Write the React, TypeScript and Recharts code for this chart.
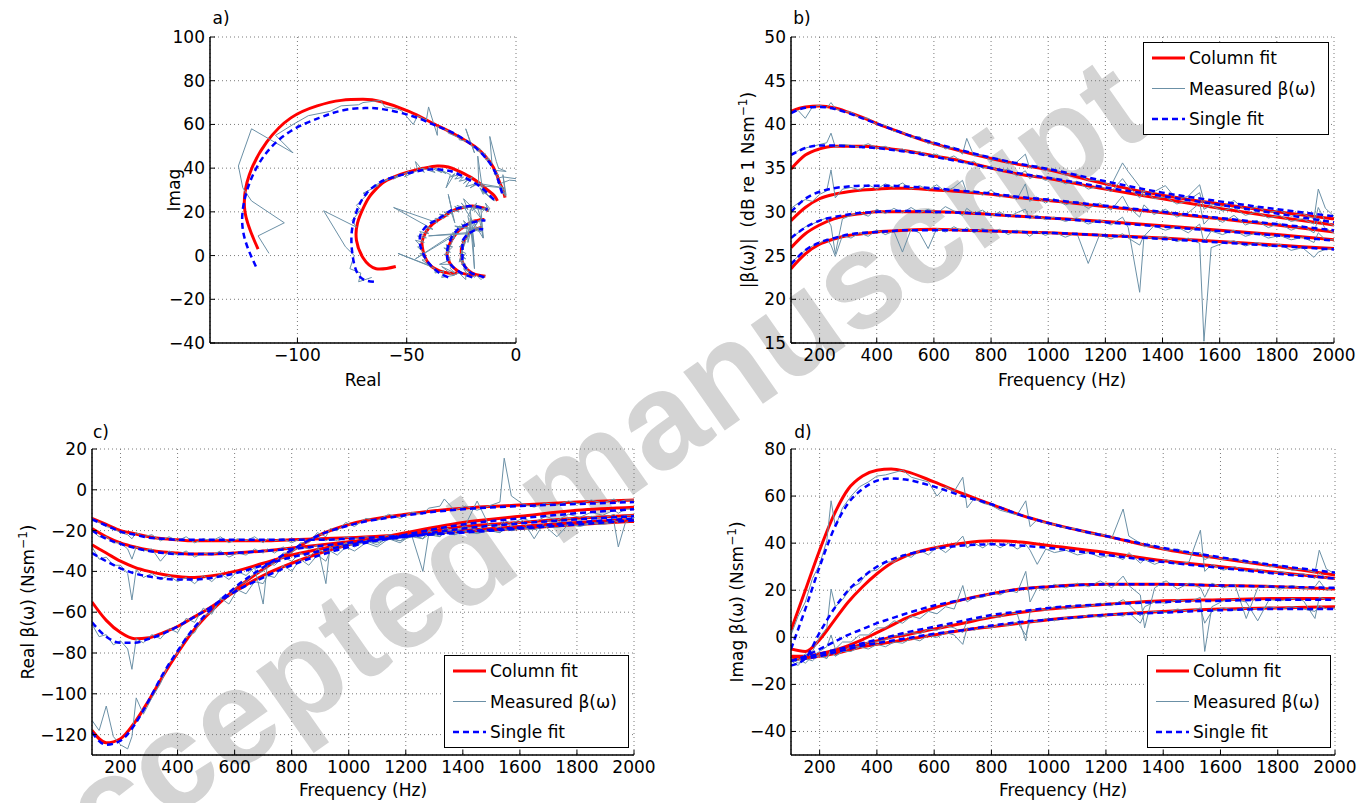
import React from "react";
import { LineChart, Line, XAxis, YAxis, CartesianGrid } from "recharts";

// frequency grids (Hz)
const fitFreq = [100, 150, 200, 250, 300, 350, 400, 450, 500, 600, 700, 800, 900, 1000, 1200, 1400, 1600, 1800, 2000];
const measFreq = [
  100, 125, 150, 175, 200, 225, 240, 255, 280, 310, 340, 370, 400, 430, 460, 490, 520, 550, 580, 610,
  640, 670, 700, 715, 740, 770, 800, 830, 860, 890, 920, 935, 960, 990, 1020, 1060, 1100, 1140, 1180, 1220,
  1260, 1280, 1320, 1335, 1370, 1410, 1450, 1490, 1530, 1545, 1570, 1610, 1650, 1690, 1730, 1770, 1810, 1850, 1890, 1930,
  1945, 1970, 2000,
];

// |beta| in dB
const bColumnFit = [
  [41.5, 42, 42.1, 41.9, 41.4, 40.8, 40.1, 39.5, 38.9, 37.8, 36.9, 36.1, 35.4, 34.8, 33.2, 31.9, 30.9, 30.0, 29.2],
  [34.9, 36.5, 37.2, 37.5, 37.5, 37.5, 37.4, 37.2, 37, 36.4, 35.8, 35, 34.3, 33.8, 32.6, 31.5, 30.4, 29.4, 28.5],
  [29, 30.5, 31.5, 32, 32.3, 32.5, 32.6, 32.7, 32.7, 32.5, 32.3, 32, 31.6, 31.3, 30.6, 29.9, 29.2, 28.5, 27.7],
  [25.9, 27.5, 28.5, 29.2, 29.6, 29.8, 30, 30, 30, 30, 29.9, 29.7, 29.5, 29.3, 28.9, 28.4, 27.9, 27.4, 26.8],
  [23.5, 25.2, 26.3, 26.9, 27.3, 27.5, 27.7, 27.8, 27.9, 28, 27.9, 27.8, 27.7, 27.6, 27.3, 27, 26.6, 26.2, 25.8],
];
const bSingleFit = [
  [41.3, 41.9, 42, 41.8, 41.3, 40.7, 40.1, 39.5, 38.9, 37.9, 37, 36.2, 35.5, 34.9, 33.5, 32.2, 31.2, 30.3, 29.5],
  [36.5, 37.3, 37.6, 37.6, 37.5, 37.4, 37.3, 37.1, 36.9, 36.3, 35.7, 35, 34.4, 33.9, 32.8, 31.8, 30.8, 29.8, 28.8],
  [30, 31.5, 32.3, 32.7, 32.9, 33, 33, 33, 32.9, 32.7, 32.4, 32.1, 31.7, 31.4, 30.7, 30, 29.3, 28.6, 27.9],
  [27, 28.2, 29, 29.4, 29.7, 29.9, 30, 30.1, 30.1, 30, 29.9, 29.7, 29.5, 29.3, 28.8, 28.3, 27.8, 27.3, 26.7],
  [24, 25.6, 26.5, 27, 27.4, 27.6, 27.7, 27.8, 27.9, 27.9, 27.9, 27.8, 27.7, 27.6, 27.3, 26.9, 26.5, 26.1, 25.7],
];
const bMeasured = [
  [41.3, 41.6, 40.7, 42.0, 42.2, 41.9, 42.5, 41.8, 41.5, 41.4, 40.8, 40.7, 40.0, 39.9, 39.2, 39.1, 38.5, 38.6, 37.8, 37.9,
    37.2, 37.4, 36.6, 38.4, 36.4, 36.5, 35.9, 36.1, 35.5, 35.7, 36.6, 35.0, 35.3, 34.7, 34.9, 34.2, 34.3, 33.6, 33.6, 33.0,
    35.6, 34.6, 32.9, 31.8, 32.3, 33.0, 31.4, 31.8, 33.1, 31.2, 30.9, 30.6, 31.3, 30.2, 30.6, 29.9, 30.2, 29.5, 29.8, 29.2,
    32.6, 30.4, 29.5],
  [36.4, 37.0, 37.3, 37.5, 37.7, 37.9, 39.0, 37.4, 37.7, 37.6, 37.4, 37.8, 37.3, 37.5, 37.0, 37.2, 36.7, 36.9, 36.4, 36.6,
    36.0, 36.4, 35.7, 35.5, 35.8, 35.0, 35.2, 34.6, 34.9, 34.1, 34.7, 33.8, 34.2, 33.6, 33.9, 33.2, 33.5, 32.6, 33.0, 32.3,
    33.8, 32.9, 31.6, 32.4, 31.5, 31.7, 30.9, 31.3, 32.2, 30.3, 30.7, 30.1, 30.5, 29.6, 30.0, 29.3, 29.6, 28.9, 29.2, 28.6,
    30.5, 28.9, 28.4],
  [30.4, 31.0, 31.4, 31.2, 32.0, 32.4, 34.8, 31.6, 32.6, 32.8, 32.5, 33.1, 32.6, 33.2, 32.8, 33.3, 32.6, 33.0, 32.5, 33.1,
    32.3, 32.8, 33.6, 32.2, 32.4, 31.9, 32.5, 31.7, 32.0, 31.4, 33.2, 31.2, 31.7, 31.0, 31.5, 30.8, 31.2, 30.4, 31.0, 30.2,
    31.8, 30.6, 29.4, 30.8, 29.7, 30.3, 29.4, 29.9, 31.0, 28.6, 29.5, 28.8, 29.6, 28.5, 29.0, 28.2, 28.7, 27.9, 28.4, 27.6,
    29.3, 28.1, 27.6],
  [27.0, 27.6, 28.3, 28.6, 29.0, 29.3, 28.4, 25.2, 29.2, 29.6, 29.9, 29.5, 30.3, 29.8, 30.4, 29.9, 30.5, 29.9, 30.3, 29.8,
    30.6, 30.1, 29.6, 30.4, 29.8, 30.2, 29.5, 30.0, 29.4, 29.9, 30.3, 29.2, 29.6, 29.1, 29.4, 28.9, 29.3, 28.6, 29.1, 28.5,
    29.4, 28.2, 20.8, 27.2, 28.4, 27.9, 28.3, 27.6, 28.6, 26.5, 27.8, 27.4, 27.9, 27.2, 27.6, 27.0, 27.3, 26.8, 27.1, 26.5,
    27.6, 26.8, 26.8],
  [24.2, 24.9, 25.6, 26.1, 26.4, 26.9, 26.2, 24.9, 27.3, 27.0, 27.6, 27.2, 27.9, 27.4, 27.8, 25.4, 28.0, 27.6, 25.8, 28.1,
    27.7, 28.3, 27.8, 28.2, 27.6, 28.1, 27.7, 28.0, 27.4, 27.9, 27.6, 27.2, 27.8, 27.3, 27.7, 27.1, 27.6, 24.1, 27.4, 26.9,
    27.5, 27.0, 26.2, 27.3, 26.9, 27.2, 26.6, 27.0, 26.4, 15.2, 25.9, 26.4, 26.7, 26.1, 26.5, 26.0, 26.3, 25.6, 25.9, 24.8,
    25.4, 25.7, 25.8],
];

// Real beta
const cColumnFit = [
  [-118, -124, -122, -114, -103, -91, -80, -70, -62, -49, -39, -30, -22, -17, -12, -9, -7.5, -6, -5],
  [-55, -64, -70, -73, -72.5, -70, -67, -63, -59, -50, -42, -36, -31, -27, -21, -16, -13, -10, -8.5],
  [-27, -31, -35, -38, -40, -41.5, -42.5, -43, -42.5, -40, -36, -32, -29, -26, -22, -18, -16, -14, -12.5],
  [-19, -23, -26, -28, -29.5, -30.5, -31, -31.5, -31.5, -31, -30, -28.5, -27, -25.5, -22.5, -20, -18, -16, -14.5],
  [-14, -17, -20, -21.5, -23, -24, -24.5, -25, -25, -25, -25, -24.5, -24, -23.5, -22, -20.5, -19, -17, -15.5],
];
const cSingleFit = [
  [-119, -125, -123, -115, -103, -90, -79, -69, -61, -48, -38, -29.5, -22, -17.5, -12.5, -9.5, -8, -7, -6],
  [-65, -72, -75, -75, -73, -70.5, -67, -63, -59, -50, -43, -37, -32, -28, -22, -17, -14, -11.5, -9.5],
  [-31, -35, -38.5, -41, -42.5, -43.5, -44, -44, -43.5, -41, -37, -33, -30, -27, -23, -19, -16.5, -14.5, -13],
  [-20, -24, -26.5, -28.5, -30, -31, -31.5, -31.5, -31.5, -31, -30, -29, -27.5, -26, -23, -20.5, -18.5, -16, -14],
  [-14.5, -17.5, -20.5, -22, -23.5, -24, -24.5, -24.5, -24.5, -24.5, -24.5, -24.5, -24.5, -24, -22.5, -21, -19, -17, -15],
];
const cMeasured = [
  [-113, -118, -106, -121, -125, -127, -121, -102, -110, -102, -95, -85, -80, -72, -70, -62, -60, -54, -52, -47,
    -45, -41, -40, -36, -36, -31, -31, -26, -26, -21, -23, -19, -20, -16, -18, -14, -15, -12, -14, -11,
    -12, -9, -8, -4.5, -10, -8, -10, -8, -6, 15.5, -3, -7, -8.5, -6.5, -7.5, -5.5, -7, -5, -6.5, -4.5,
    -6, -5, -5],
  [-66, -72, -71, -76, -74, -78, -88, -73, -75, -71, -73, -68, -70, -63, -65, -58, -61, -53, -56, -49,
    -51, -45, -46, -42, -43, -37, -40, -34, -37, -32, -35, -30, -32, -28, -30, -26, -28, -24, -26, -22,
    -24, -20, -23, -18, -21, -17, -5.5, -17, -17.5, -15, -16.5, -14, -16, -13, -15, -12, -13.5, -11, -12.5, -10,
    -11.5, -9.5, -9.5],
  [-28, -34, -33, -37, -37, -41, -54, -39, -43, -41, -44, -42, -45, -43, -46, -42, -45, -41, -44, -40,
    -42, -38, -56, -36, -37, -33, -35, -31, -33, -29, -31, -28, -30, -26, -28, -25, -27, -23, -25, -22,
    -24, -20, -22, -19, -21, -18, -20, -17, -19, -16, -18, -15, -24, -15, -16, -14, -15, -13, -14, -12,
    -14, -12.5, -12.5],
  [-20, -23, -23, -26, -26, -29, -34, -28, -30, -29, -35, -30, -32, -30, -33, -31, -32, -30, -33, -31,
    -32, -29, -31, -29, -31, -28, -30, -28, -29, -27, -46, -27, -28, -26, -27, -25, -26, -24, -25, -23,
    -24, -22, -23, -21, -22, -20, -21, -19.5, -21, -19, -20, -18.5, -19.5, -18, -23, -17, -17.5, -16, -16.5, -15,
    -16, -14.5, -14],
  [-14, -16, -18, -19, -21, -22, -24, -21, -23, -22, -25, -23, -25, -23, -26, -24, -25, -23, -26, -24,
    -25, -23, -26, -24, -25, -24, -26, -24, -25, -23, -25, -24, -25, -23, -24, -23, -24, -22, -23, -22,
    -40, -22, -22, -21, -22, -20.5, -21.5, -20, -21, -19.5, -20, -19, -19.5, -18, -18.5, -17, -18, -16.5, -17, -16,
    -28, -16, -15],
];

// Imag beta
const dColumnFit = [
  [3, 20, 37, 52, 63, 68.5, 71, 71.5, 70.5, 66, 61, 56.5, 52, 48.5, 43, 37.5, 33.5, 30, 26.5],
  [-5, -6, -1, 7, 15, 21.5, 27, 31.5, 34.5, 38, 40, 41, 40.5, 39, 36, 32.5, 30, 27.5, 25],
  [-8, -8, -7, -5.5, -3.5, -1, 2, 5, 8, 12.5, 16, 18.5, 20.5, 21.5, 22.5, 22.5, 22, 21.5, 20.5],
  [-9, -8.5, -7.5, -6, -4.5, -3, -1.5, 0, 1, 3.5, 6, 8.5, 10.5, 12, 14, 15.5, 16, 16.5, 16.5],
  [-9.5, -9, -8, -7, -5.5, -4, -3, -2, -1, 1, 3, 4.5, 6, 7.5, 9.5, 11, 12, 12.5, 13],
];
const dSingleFit = [
  [-5, 12, 30, 46, 57, 63, 66.5, 67.5, 67, 64, 60, 56.5, 52, 48.5, 43, 38, 34, 30.5, 27.5],
  [-12, -9, 2, 12, 20, 25.5, 30, 33, 35, 37.5, 39, 39.5, 39, 38, 35, 32, 29.5, 27, 25],
  [-10, -8, -5, -2, 1, 3.5, 6, 8, 10, 13.5, 16, 18.5, 20.5, 21.5, 22.5, 22.5, 22, 21.5, 21],
  [-10, -8.5, -7, -5.5, -4, -2.5, -1, 0.5, 2, 4.5, 7, 9.5, 11, 12.5, 14, 15, 15.5, 16, 16],
  [-10, -9, -8, -6.5, -5, -3.5, -2.5, -1.5, -0.5, 1.5, 3, 5, 6.5, 7.5, 9.5, 10.5, 11.5, 12, 12],
];
const dMeasured = [
  [1, 9, 15, 25, 31, 41, 58, 47, 55, 60, 64, 66, 68.5, 69, 70, 71, 68, 67, 66, 60,
    64, 62, 68, 55, 59, 57, 56, 54, 53, 52, 58, 47, 50, 48.5, 48, 46.5, 46, 44, 44, 42,
    54.5, 43, 40, 38.5, 39, 37, 37.5, 35.5, 36, 33, 34.5, 33, 33.5, 31.5, 32, 30, 30.5, 28.5, 29, 27.5,
    37, 29, 27],
  [-10, -12, -8, -6, 0, 4, 20.5, 13, 16, 21, 23, 28, 28.5, 32, 32, 35, 34, 37, 35, 38.5,
    36, 39, 43, 38, 40, 38, 40.5, 38, 40, 37.5, 39.5, 37, 31, 37.5, 36, 37, 35, 36, 34, 35,
    33, 36, 31.5, 33, 31, 33, 31, 32, 45.5, 28, 31, 28.5, 30, 28, 29, 27, 28, 26.5, 27, 25,
    27.5, 25, 25],
  [-9, -10, -7, -8, -6, -4, 1, -5, -2, -2, 1, 1, 4, 4, 7, 6, 9, 8, 11, 10,
    13, 12, 22, 15, 17, 17, 19, 18, 20, 19, 28, 15, 21, 20, 22.5, 21, 23, 21.5, 24, 21,
    26, 22, 18, 4, 21, 24, 20.5, 23, 21, 17, 23, 21, 22.5, 8, 21, 22, 20.5, 22, 20.5, 21.5,
    24, 20, 21],
  [-10, -9, -11, -8, -8, -9, -5, -8, -6, -4, -4, -2, -2, -1, 0.5, 1, 2, 1.5, 3.5, 3,
    5, 4, 2, 7, 7.5, 8, 9, 8.5, 10.5, 10, -1.5, 11, 12, 11.5, 13, 12, 13.5, 13, 14.5, 13.5,
    16, 14, 9, 13, 15, 14.5, 16, 15, 17, -6, 13, 15.5, 16, 15, 7, 16, 15.5, 16.5, 15.5, 8,
    17, 16, 16],
  [-9, -11, -9, -10, -7, -9, -6, -8, -6, -6, -4, -5, -3, -4, -2, -2.5, -0.5, -1.5, 1, 0,
    2, 1, -3, 4, 3, 4.5, 4, 5.5, 5, 6.5, 1, 7, 6.5, 8, 7, 8.5, 8, 9.5, 8.5, 10,
    9, 10.5, 6, 10, 11, 10.5, 12, 11, 12.5, 6, 11, 12.5, 11.5, 12.5, 12, 13, 12, 13, 12, 11,
    13.5, 12, 12.5],
];

const freqTicks = [200, 400, 600, 800, 1000, 1200, 1400, 1600, 1800, 2000];
const aXTicks = [-100, -50, 0];
const aYTicks = [-40, -20, 0, 20, 40, 60, 80, 100];
const bYTicks = [15, 20, 25, 30, 35, 40, 45, 50];
const cYTicks = [-120, -100, -80, -60, -40, -20, 0, 20];
const dYTicks = [-40, -20, 0, 20, 40, 60, 80];

const RED = "#ff0000";
const BLUE = "#0000ff";
const GRAY = "#6b90a6";
const FONT = "'DejaVu Sans', Arial, sans-serif";

const pair = (xs: number[], ys: number[]) => xs.map((x, i) => ({ x, y: ys[i] }));
const fmt = (v: number) => String(v).replace("-", "\u2212");

type PanelProps = {
  left: number;
  top: number;
  w: number;
  h: number;
  xDomain: [number, number];
  xTicks: number[];
  yDomain: [number, number];
  yTicks: number[];
  col: { x: number; y: number }[][];
  meas: { x: number; y: number }[][];
  single: { x: number; y: number }[][];
  curve: "monotone" | "natural";
};

function Panel({ left, top, w, h, xDomain, xTicks, yDomain, yTicks, col, meas, single, curve }: PanelProps) {
  const tickStyle = { fontSize: 17, fontFamily: FONT, fill: "#000" };
  const axisLine = { stroke: "#000", strokeWidth: 1.5 };
  const tickLine = { stroke: "#000", strokeWidth: 1 };
  return (
    <div style={{ position: "absolute", left: left - 80, top: top - 10 }}>
      <LineChart width={w + 120} height={h + 60} margin={{ top: 10, right: 40, bottom: 10, left: 0 }}>
        <CartesianGrid stroke="#7a7a7a" strokeDasharray="1 3" />
        <XAxis type="number" dataKey="x" domain={xDomain} ticks={xTicks} allowDataOverflow interval={0}
          tickFormatter={fmt} tick={tickStyle} tickSize={-5} tickMargin={11} height={40}
          axisLine={axisLine} tickLine={tickLine} />
        <XAxis xAxisId="top" orientation="top" type="number" dataKey="x" domain={xDomain} ticks={xTicks}
          allowDataOverflow interval={0} tickFormatter={() => ""} tickSize={-5} height={0}
          axisLine={axisLine} tickLine={tickLine} />
        <YAxis type="number" domain={yDomain} ticks={yTicks} allowDataOverflow interval={0}
          tickFormatter={fmt} tick={tickStyle} tickSize={-5} tickMargin={10} width={80}
          axisLine={axisLine} tickLine={tickLine} />
        <YAxis yAxisId="right" orientation="right" type="number" domain={yDomain} ticks={yTicks}
          allowDataOverflow interval={0} tickFormatter={() => ""} tickSize={-5} width={0}
          axisLine={axisLine} tickLine={tickLine} />
        {col.map((rows, i) => (
          <Line key={"col" + i} data={rows} dataKey="y" type={curve} stroke={RED} strokeWidth={3}
            dot={false} activeDot={false} isAnimationActive={false} />
        ))}
        {meas.map((rows, i) => (
          <Line key={"meas" + i} data={rows} dataKey="y" type="linear" stroke={GRAY} strokeWidth={1}
            dot={false} activeDot={false} isAnimationActive={false} />
        ))}
        {single.map((rows, i) => (
          <Line key={"single" + i} data={rows} dataKey="y" type={curve} stroke={BLUE} strokeWidth={2.5}
            strokeDasharray="6 4" dot={false} activeDot={false} isAnimationActive={false} />
        ))}
      </LineChart>
    </div>
  );
}

function LegendBox({ left, top, width }: { left: number; top: number; width: number }) {
  const rows = [
    { label: "Column fit", stroke: RED, sw: 3, dash: undefined as string | undefined },
    { label: "Measured β(ω)", stroke: GRAY, sw: 1, dash: undefined },
    { label: "Single fit", stroke: BLUE, sw: 2.5, dash: "6 4" },
  ];
  return (
    <div style={{ position: "absolute", left, top, width, height: 93, border: "1.5px solid #000",
      background: "#fff", boxSizing: "border-box" }}>
      <svg width={width - 3} height={90} style={{ position: "absolute", left: 0, top: 0 }}>
        {rows.map((r, i) => (
          <g key={r.label}>
            <line x1={8} x2={41} y1={15 + i * 30.5} y2={15 + i * 30.5} stroke={r.stroke}
              strokeWidth={r.sw} strokeDasharray={r.dash} />
            <text x={45} y={15 + i * 30.5} dominantBaseline="central" fontSize={17} fontFamily={FONT}>
              {r.label}
            </text>
          </g>
        ))}
      </svg>
    </div>
  );
}

const txt: React.CSSProperties = { position: "absolute", fontFamily: FONT, fontSize: 17, whiteSpace: "pre", color: "#000" };

function Title({ x, y, children, rotate }: { x: number; y: number; children: React.ReactNode; rotate?: boolean }) {
  return (
    <div style={{ ...txt, left: x, top: y, transform: `translate(-50%, -50%)${rotate ? " rotate(-90deg)" : ""}` }}>
      {children}
    </div>
  );
}

const Nsm = (
  <>
    Nsm<sup style={{ fontSize: 12 }}>−1</sup>)
  </>
);

export default function App() {
  const mk = (xs: number[], set: number[][]) => set.map((ys) => pair(xs, ys));
  const fAxis: [number, number] = [100, 2000];
  return (
    <div style={{ position: "absolute", left: 0, top: 0, width: 1358, height: 803, background: "#fff", overflow: "hidden" }}>
      <svg width={1358} height={803} style={{ position: "absolute", left: 0, top: 0 }}>
        <text x={590} y={525} textAnchor="middle" fontSize={136} fontWeight="bold" fontFamily="'Liberation Sans', Arial, sans-serif"
          fill="#d4d4d4" transform="rotate(-35 590 525)">
          Accepted manuscript
        </text>
      </svg>

      <Panel left={210} top={37} w={306} h={306} xDomain={[-140, 0]} xTicks={aXTicks} yDomain={[-40, 100]} yTicks={aYTicks}
        col={cColumnFit.map((c, i) => pair(c, dColumnFit[i]))}
        meas={cMeasured.map((c, i) => pair(c, dMeasured[i]))}
        single={cSingleFit.map((c, i) => pair(c, dSingleFit[i]))}
        curve="natural" />
      <Panel left={791} top={37} w={543} h={306} xDomain={fAxis} xTicks={freqTicks} yDomain={[15, 50]} yTicks={bYTicks}
        col={mk(fitFreq, bColumnFit)} meas={mk(measFreq, bMeasured)} single={mk(fitFreq, bSingleFit)} curve="monotone" />
      <Panel left={92} top={449} w={542} h={306} xDomain={fAxis} xTicks={freqTicks} yDomain={[-130, 20]} yTicks={cYTicks}
        col={mk(fitFreq, cColumnFit)} meas={mk(measFreq, cMeasured)} single={mk(fitFreq, cSingleFit)} curve="monotone" />
      <Panel left={791} top={449} w={544} h={306} xDomain={fAxis} xTicks={freqTicks} yDomain={[-50, 80]} yTicks={dYTicks}
        col={mk(fitFreq, dColumnFit)} meas={mk(measFreq, dMeasured)} single={mk(fitFreq, dSingleFit)} curve="monotone" />

      <LegendBox left={1143} top={42} width={186} />
      <LegendBox left={444} top={655} width={185} />
      <LegendBox left={1147} top={655} width={184} />

      <Title x={221} y={18}>a)</Title>
      <Title x={802} y={18}>b)</Title>
      <Title x={101} y={432}>c)</Title>
      <Title x={803} y={432}>d)</Title>

      <Title x={363} y={380}>Real</Title>
      <Title x={174} y={190} rotate>Imag</Title>
      <Title x={1062} y={380}>Frequency (Hz)</Title>
      <Title x={747} y={190} rotate>|β(ω)|  (dB re 1 {Nsm}</Title>
      <Title x={363} y={790}>Frequency (Hz)</Title>
      <Title x={27} y={602} rotate>Real β(ω) ({Nsm}</Title>
      <Title x={1063} y={790}>Frequency (Hz)</Title>
      <Title x={736} y={602} rotate>Imag β(ω) ({Nsm}</Title>
    </div>
  );
}
